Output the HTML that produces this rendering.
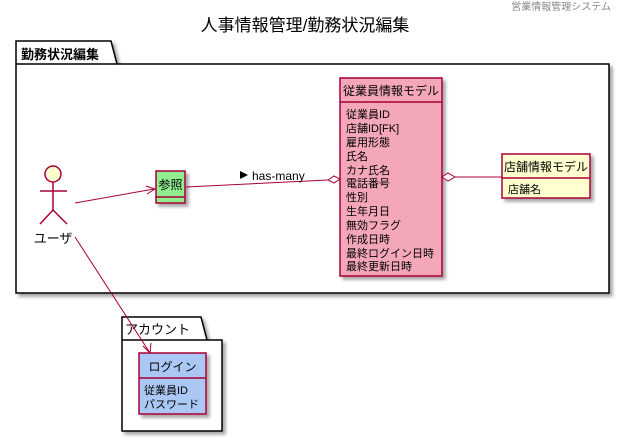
<!DOCTYPE html>
<html><head><meta charset="utf-8"><style>
body{margin:0;background:#fff;width:623px;height:437px;overflow:hidden}
svg text{font-family:"Liberation Sans","Noto Sans CJK JP",sans-serif}
</style></head><body>
<svg width="623" height="437" xmlns="http://www.w3.org/2000/svg">
<defs><filter id="s" x="-10%" y="-10%" width="130%" height="130%"><feDropShadow dx="3" dy="3" stdDeviation="1.5" flood-color="#000" flood-opacity="0.35"/></filter></defs>
<text x="611" y="10" font-size="10" fill="#888" text-anchor="end">営業情報管理システム</text>
<text x="305" y="31" font-size="17" text-anchor="middle">人事情報管理/勤務状況編集</text>
<!-- package 1 -->
<g filter="url(#s)">
<path d="M16,64 L16,41 L111,41 L117,64 L609,64 L609,293 L16,293 Z" fill="#fff" stroke="#000" stroke-width="1.5"/>
</g>
<line x1="16" y1="64" x2="117" y2="64" stroke="#000" stroke-width="1.5"/>
<text x="21" y="59" font-size="13" font-weight="bold">勤務状況編集</text>
<!-- package 2 -->
<g filter="url(#s)">
<path d="M122,140 Z M122,340 L122,317 L201,317 L207,340 L222,340 L222,431 L122,431 Z" fill="#fff" stroke="#000" stroke-width="1.5"/>
</g>
<line x1="122" y1="340" x2="207" y2="340" stroke="#000" stroke-width="1.5"/>
<text x="125" y="334" font-size="13">アカウント</text>
<!-- actor -->
<g stroke="#a80036" stroke-width="1.5" fill="none">
<circle cx="53" cy="174" r="8" fill="#fefece"/>
<line x1="53" y1="182" x2="53" y2="210"/>
<line x1="40" y1="191" x2="67" y2="191"/>
<line x1="53" y1="210" x2="40" y2="224"/>
<line x1="53" y1="210" x2="67" y2="224"/>
</g>
<text x="53" y="243" font-size="13" text-anchor="middle">ユーザ</text>
<!-- 参照 -->
<g filter="url(#s)"><rect x="156" y="171" width="29" height="32" fill="#90ee90" stroke="#a80036" stroke-width="1.5"/></g>
<line x1="156" y1="197" x2="185" y2="197" stroke="#a80036" stroke-width="1.5"/>
<text x="170.5" y="189" font-size="12" text-anchor="middle">参照</text>
<!-- employee -->
<g filter="url(#s)"><rect x="340" y="78" width="102" height="198" fill="#f4a7b9" stroke="#a80036" stroke-width="1.5"/></g>
<line x1="340" y1="102" x2="442" y2="102" stroke="#a80036" stroke-width="1.5"/>
<text x="391" y="95" font-size="12" text-anchor="middle">従業員情報モデル</text>
<g font-size="11">
<text x="346" y="118">従業員ID</text>
<text x="346" y="132">店舗ID[FK]</text>
<text x="346" y="146">雇用形態</text>
<text x="346" y="160">氏名</text>
<text x="346" y="174">カナ氏名</text>
<text x="346" y="187">電話番号</text>
<text x="346" y="201">性別</text>
<text x="346" y="215">生年月日</text>
<text x="346" y="229">無効フラグ</text>
<text x="346" y="243">作成日時</text>
<text x="346" y="257">最終ログイン日時</text>
<text x="346" y="270">最終更新日時</text>
</g>
<!-- store -->
<g filter="url(#s)"><rect x="502" y="154" width="88" height="44" fill="#fefece" stroke="#a80036" stroke-width="1.5"/></g>
<line x1="502" y1="178" x2="590" y2="178" stroke="#a80036" stroke-width="1.5"/>
<text x="546" y="171" font-size="12" text-anchor="middle">店舗情報モデル</text>
<text x="508" y="193" font-size="11">店舗名</text>
<!-- login -->
<g filter="url(#s)"><rect x="139" y="353" width="67" height="61" fill="#abc8f5" stroke="#a80036" stroke-width="1.5"/></g>
<line x1="139" y1="378" x2="206" y2="378" stroke="#a80036" stroke-width="1.5"/>
<text x="172.5" y="371" font-size="12" text-anchor="middle">ログイン</text>
<text x="144" y="394" font-size="11">従業員ID</text>
<text x="144" y="408" font-size="11">パスワード</text>
<!-- connectors -->
<g stroke="#a80036" stroke-width="1" fill="none">
<line x1="75" y1="203" x2="154" y2="189"/>
<path d="M146,186 L155,189 L147,194"/>
<line x1="186" y1="187" x2="328" y2="180"/>
<path d="M328,180 L334,176 L340,179 L334,183 Z" fill="#fff"/>
<line x1="455" y1="177" x2="502" y2="177"/>
<path d="M442,177 L448,173 L455,177 L448,181 Z" fill="#fff"/>
<line x1="75" y1="237" x2="150" y2="353"/>
<path d="M143,346 L150,353 L151,343"/>
</g>
<path d="M240,171 L248,175 L240,179 Z" fill="#000"/>
<text x="252" y="180" font-size="12">has-many</text>
</svg>
</body></html>
